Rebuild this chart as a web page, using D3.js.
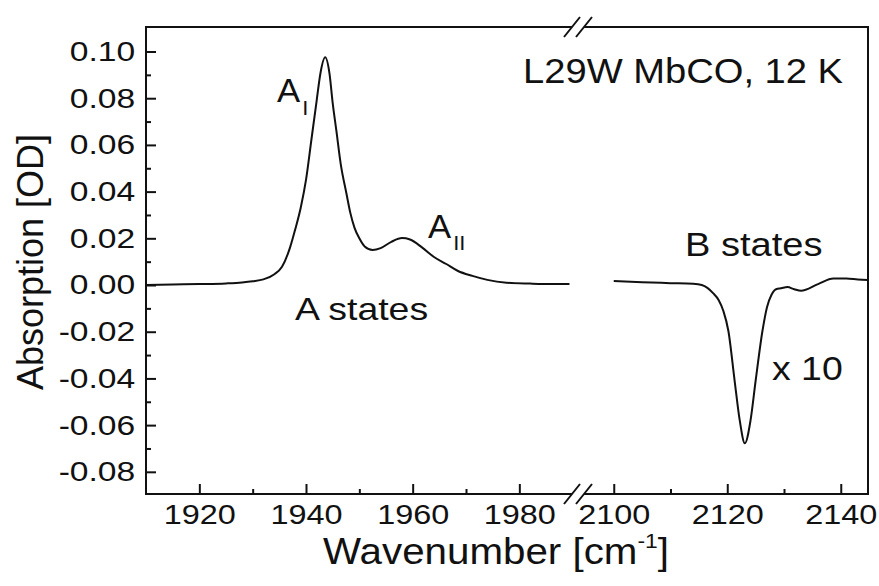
<!DOCTYPE html>
<html>
<head>
<meta charset="utf-8">
<script src="https://cdn.jsdelivr.net/npm/d3@7"></script>
<style>
  html, body { margin: 0; padding: 0; background: #fff; }
  svg { display: block; }
  text { font-family: "Liberation Sans", Arial, Helvetica, sans-serif; fill: #111; }
  .axis path.domain { display: none; }
  .axis line { stroke: #111; stroke-width: 2; }
</style>
</head>
<body>
<svg id="chart" width="879" height="586"></svg>
<script>
/* ─── Data ───────────────────────────────────────────────────────────────── */

// A states (left segment), wavenumber in cm-1 and absorption in OD
const WAVENUMBER_A = [1910, 1915, 1920, 1925, 1928, 1930, 1932, 1934, 1935.5, 1937, 1938, 1939,
  1940, 1941, 1942, 1942.7, 1943.6, 1944.4, 1945, 1945.7, 1946.5, 1947.6, 1948.3, 1949.1,
  1950, 1951, 1952.5, 1954, 1956, 1958, 1959.5, 1961.8, 1964, 1966.3, 1968.5, 1971.2,
  1974, 1977.6, 1982, 1986, 1989.4];
const ABSORB_A = [0.0000, 0.0002, 0.0004, 0.0007, 0.0011, 0.0016, 0.0024, 0.0045, 0.0078, 0.0160, 0.0240, 0.0330,
  0.0450, 0.0620, 0.0790, 0.0906, 0.0975, 0.0906, 0.0780, 0.0660, 0.0520, 0.0390, 0.0310, 0.0245,
  0.0200, 0.0165, 0.0150, 0.0158, 0.0185, 0.0201, 0.0195, 0.0160, 0.0120, 0.0090, 0.0060, 0.0039,
  0.0022, 0.0010, 0.0006, 0.0004, 0.0004];

// B states (right segment, scaled x 10)
const WAVENUMBER_B = [2100, 2105, 2110, 2114, 2115.5, 2116.5, 2117.5, 2118.5, 2119.3, 2120.2, 2121.3, 2122.2, 2123.1,
  2124.1, 2125, 2126.2, 2127, 2127.8, 2128.6, 2129.5, 2130.6, 2131.8, 2133, 2136, 2138.7, 2141, 2143, 2144.8];
const ABSORB_B = [0.0017, 0.0012, 0.0008, 0.0005, 0.0000, -0.0012, -0.0035, -0.0065, -0.0110, -0.0197, -0.0410, -0.0580, -0.0678,
  -0.0580, -0.0410, -0.0197, -0.0095, -0.0042, -0.0018, -0.0014, -0.0009, -0.0018, -0.0025, 0.0004, 0.0028, 0.0028, 0.0024, 0.0022];

// Tick values
const Y_TICKS = [-0.08, -0.06, -0.04, -0.02, 0.00, 0.02, 0.04, 0.06, 0.08, 0.10];
const Y_MINOR = [-0.07, -0.05, -0.03, -0.01, 0.01, 0.03, 0.05, 0.07, 0.09];
const X_TICKS_A = [1920, 1940, 1960, 1980];
const X_MINOR_A = [1930, 1950, 1970];
const X_TICKS_B = [2100, 2120, 2140];
const X_MINOR_B = [2110, 2130];

/* ─── Layout ─────────────────────────────────────────────────────────────── */

const M = { left: 146, top: 27 };
const W = 722, H = 467;
const XB = 432;              // axis break position inside the plot

const svg = d3.select('#chart');
const g = svg.append('g').attr('transform', `translate(${M.left},${M.top})`);

const xA = d3.scaleLinear().domain([1910, 1991]).range([0, XB]);
const xB = d3.scaleLinear().domain([2093.7, 2144.8]).range([XB, W]);
const y  = d3.scaleLinear().domain([-0.0895, 0.1105]).range([H, 0]);

const fmt = d => d.toFixed(2);

/* ─── Axes ───────────────────────────────────────────────────────────────── */

g.append('g').attr('class', 'axis')
  .call(d3.axisLeft(y).tickValues(Y_TICKS).tickFormat(fmt).tickSize(-10).tickPadding(9))
  .selectAll('text')
  .style('font-size', '28px')
  .attr('transform', 'scale(1.2,1)');

g.append('g').attr('class', 'axis')
  .call(d3.axisLeft(y).tickValues(Y_MINOR).tickFormat('').tickSize(-5));

function bottomAxis(scale, major, minor) {
  g.append('g').attr('class', 'axis').attr('transform', `translate(0,${H})`)
    .call(d3.axisBottom(scale).tickValues(major).tickFormat(d3.format('d')).tickSize(-10).tickPadding(11))
    .selectAll('text')
    .style('font-size', '27px')
    .attr('transform', 'scale(1.2,1)');
  g.append('g').attr('class', 'axis').attr('transform', `translate(0,${H})`)
    .call(d3.axisBottom(scale).tickValues(minor).tickFormat('').tickSize(-5));
}
bottomAxis(xA, X_TICKS_A, X_MINOR_A);
bottomAxis(xB, X_TICKS_B, X_MINOR_B);

/* ─── Frame with break marks ─────────────────────────────────────────────── */

const frame = d3.path();
frame.moveTo(XB - 6, 0); frame.lineTo(0, 0); frame.lineTo(0, H); frame.lineTo(XB - 6, H);
frame.moveTo(XB + 6, 0); frame.lineTo(W, 0); frame.lineTo(W, H); frame.lineTo(XB + 6, H);
[0, H].forEach(yy => {
  [-6, 6].forEach(dx => {
    frame.moveTo(XB + dx - 8, yy + 10);
    frame.lineTo(XB + dx + 8, yy - 10);
  });
});
g.append('path').attr('d', frame.toString())
  .attr('fill', 'none').attr('stroke', '#111').attr('stroke-width', 2);

/* ─── Curves ─────────────────────────────────────────────────────────────── */

const lineA = d3.line().x(d => xA(d[0])).y(d => y(d[1])).curve(d3.curveMonotoneX);
const lineB = d3.line().x(d => xB(d[0])).y(d => y(d[1])).curve(d3.curveMonotoneX);

g.append('path').datum(d3.zip(WAVENUMBER_A, ABSORB_A))
  .attr('d', lineA).attr('fill', 'none').attr('stroke', '#111').attr('stroke-width', 2);
g.append('path').datum(d3.zip(WAVENUMBER_B, ABSORB_B))
  .attr('d', lineB).attr('fill', 'none').attr('stroke', '#111').attr('stroke-width', 2);

/* ─── Labels ─────────────────────────────────────────────────────────────── */

function label(x, yy, size, sx) {
  return svg.append('text')
    .attr('transform', `translate(${x},${yy}) scale(${sx},1)`)
    .style('font-size', size + 'px');
}

label(523, 83, 35, 1.09).text('L29W MbCO, 12 K');

const aI = label(277, 102, 33, 1.05);
aI.append('tspan').text('A');
aI.append('tspan').attr('dx', 2).attr('dy', 13).style('font-size', '21px').text('I');

const aII = label(428, 238, 33, 1.05);
aII.append('tspan').text('A');
aII.append('tspan').attr('dx', 2).attr('dy', 12).style('font-size', '21px').text('II');

label(295, 320, 32, 1.17).text('A states');
label(685, 256, 34, 1.12).text('B states');
label(772, 380, 34, 1.1).text('x 10');

// axis titles
const xt = label(323, 564, 37, 1.09);
xt.append('tspan').text('Wavenumber [cm');
xt.append('tspan').attr('dy', -16).style('font-size', '21px').text('-1');
xt.append('tspan').attr('dy', 16).text(']');

svg.append('text')
  .attr('transform', 'translate(43,262) rotate(-90)')
  .attr('text-anchor', 'middle')
  .style('font-size', '36px')
  .text('Absorption [OD]');
</script>
</body>
</html>
